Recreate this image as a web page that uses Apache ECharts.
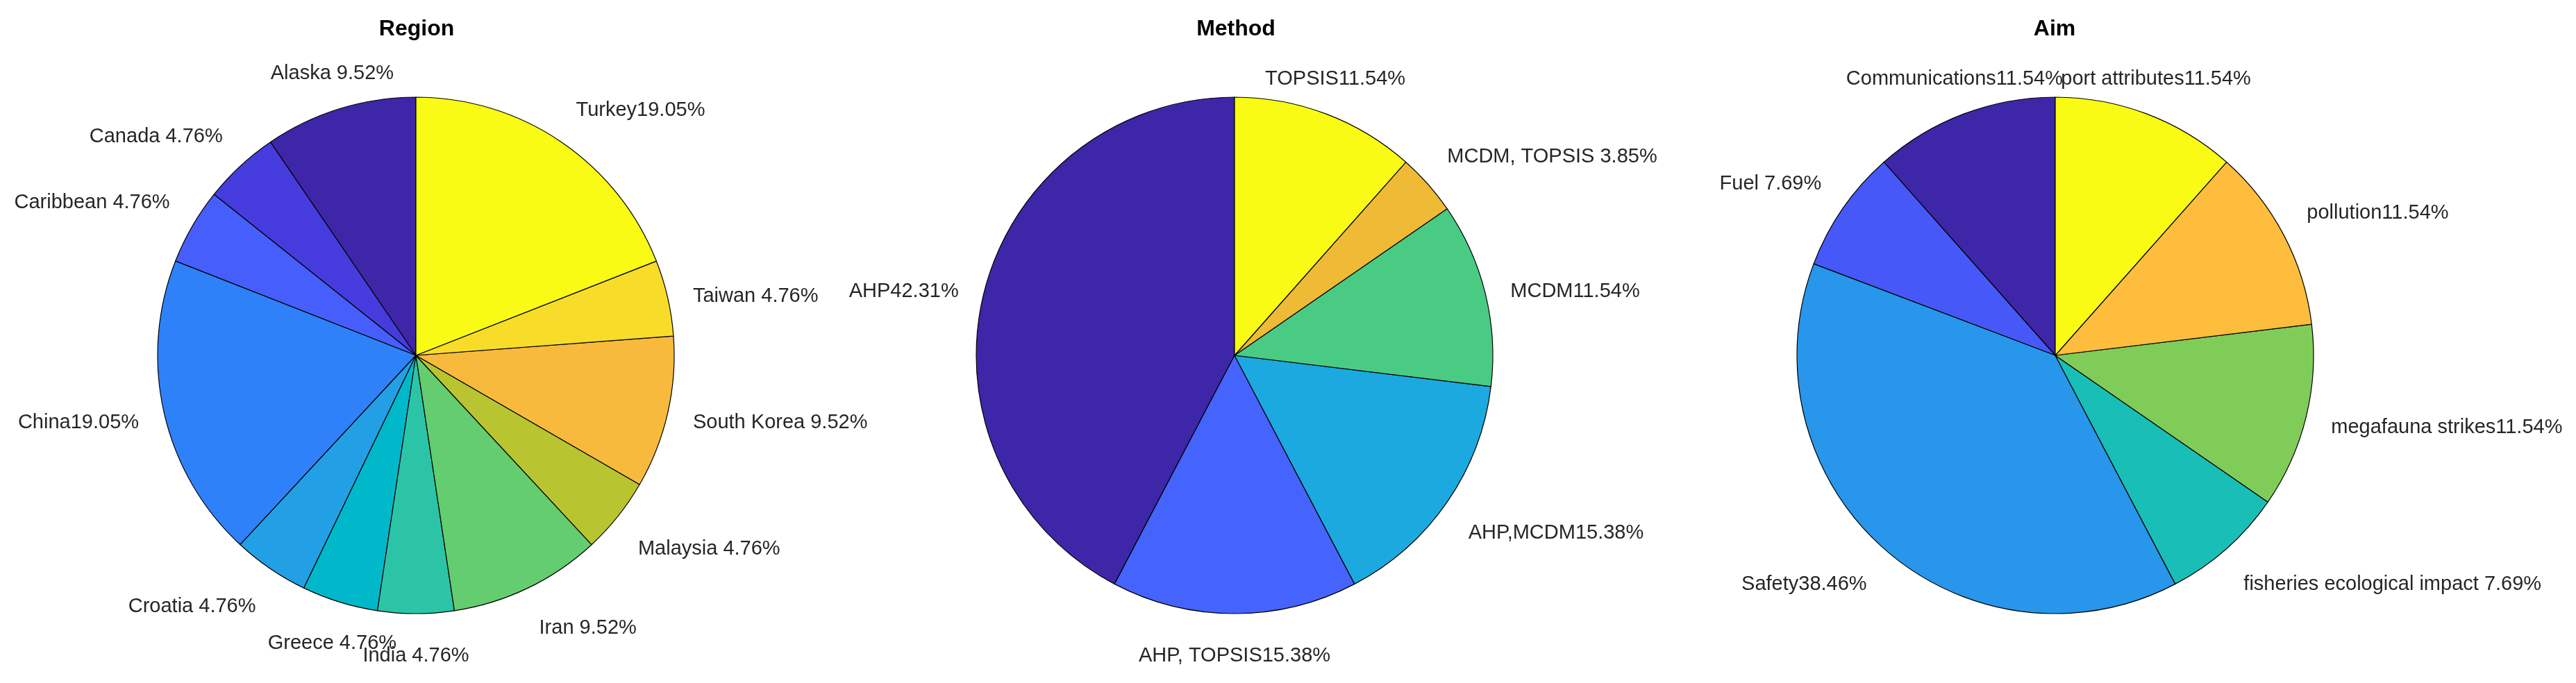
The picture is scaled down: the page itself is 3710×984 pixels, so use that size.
<!DOCTYPE html>
<html>
<head>
<meta charset="utf-8">
<script src="https://cdn.jsdelivr.net/npm/echarts@6/dist/echarts.min.js"></script>
<style>
  html, body { margin: 0; padding: 0; background: #fff; }
  #chart { width: 3710px; height: 984px; }
</style>
</head>
<body>
<div id="chart"></div>
<script>
// ---------- data ----------
const regionTitle = 'Region';
const regionNames = ['Alaska', 'Canada', 'Caribbean', 'China', 'Croatia', 'Greece', 'India', 'Iran', 'Malaysia', 'South Korea', 'Taiwan', 'Turkey'];
const regionCounts = [2, 1, 1, 4, 1, 1, 1, 2, 1, 2, 1, 4];

const methodTitle = 'Method';
const methodNames = ['AHP', 'AHP, TOPSIS', 'AHP,MCDM', 'MCDM', 'MCDM, TOPSIS', 'TOPSIS'];
const methodCounts = [11, 4, 4, 3, 1, 3];

const aimTitle = 'Aim';
const aimNames = ['Communications', 'Fuel', 'Safety', 'fisheries ecological impact', 'megafauna strikes', 'pollution', 'port attributes'];
const aimCounts = [3, 2, 10, 2, 3, 3, 3];

// ---------- styles (parula colormap samples) ----------
const regionColors = ['#3E26A8', '#463CDE', '#465EFB', '#2F81FA', '#23A0E5', '#01B8CA', '#2CC4A7', '#64CD6F', '#B9C431', '#F8BA3D', '#F7DC2A', '#F9FB15'];
const methodColors = ['#3E26A8', '#4563FD', '#1CA9DF', '#4ACB84', '#EFBA36', '#F9FB15'];
const aimColors = ['#3E26A8', '#4758F8', '#2796EB', '#19BFB6', '#80CC59', '#FEBD3C', '#F9FB15'];

const FONT = '"Liberation Sans", Arial, Helvetica, sans-serif';
const R = 372;
const centers = [[599, 512], [1778, 512], [2960, 512]];

function makeSeries(names, counts, colors, center) {
  const total = counts.reduce((a, b) => a + b, 0);
  const mids = [];
  let acc = 0;
  counts.forEach(c => { mids.push((acc + c / 2) / total * 360); acc += c; });
  return {
    type: 'pie',
    center: center,
    radius: R,
    startAngle: 90,
    clockwise: false,
    avoidLabelOverlap: false,
    silent: true,
    animation: false,
    emphasis: { disabled: true },
    data: names.map((n, i) => ({ name: n, value: counts[i], itemStyle: { color: colors[i] } })),
    itemStyle: { borderColor: '#000', borderWidth: 1.2 },
    label: {
      show: true,
      position: 'outside',
      color: '#262626',
      fontSize: 29,
      fontFamily: FONT,
      formatter: function (p) {
        const pct = (p.value / total * 100).toFixed(2);
        return p.name + (pct.length < 5 ? ' ' : '') + pct + '%';
      }
    },
    labelLine: { show: false },
    labelLayout: function (params) {
      const a = mids[params.dataIndex];
      const rad = a * Math.PI / 180;
      const x = center[0] - 1.1 * R * Math.sin(rad);
      const y = center[1] - 1.1 * R * Math.cos(rad);
      const cw = (360 - a) % 360;
      let align;
      if (cw < 22.5 || cw > 337.5 || (cw > 157.5 && cw < 202.5)) align = 'center';
      else if (cw < 180) align = 'left';
      else align = 'right';
      let dy;
      if ((cw > 67.5 && cw < 112.5) || (cw > 247.5 && cw < 292.5)) dy = 6;
      else if (cw <= 67.5 || cw >= 292.5) dy = -15;
      else dy = 24;
      return { x: x, y: y + dy, align: align, verticalAlign: 'middle' };
    }
  };
}

const titleStyle = { fontSize: 32, fontWeight: 'bold', color: '#000', fontFamily: FONT };

const chart = echarts.init(document.getElementById('chart'), null, { renderer: 'canvas' });
chart.setOption({
  backgroundColor: '#ffffff',
  animation: false,
  title: [
    { text: regionTitle, left: 600, top: 26, textAlign: 'center', padding: 0, textStyle: titleStyle },
    { text: methodTitle, left: 1780, top: 26, textAlign: 'center', padding: 0, textStyle: titleStyle },
    { text: aimTitle, left: 2959, top: 26, textAlign: 'center', padding: 0, textStyle: titleStyle }
  ],
  series: [
    makeSeries(regionNames, regionCounts, regionColors, centers[0]),
    makeSeries(methodNames, methodCounts, methodColors, centers[1]),
    makeSeries(aimNames, aimCounts, aimColors, centers[2])
  ]
});
</script>
</body>
</html>
